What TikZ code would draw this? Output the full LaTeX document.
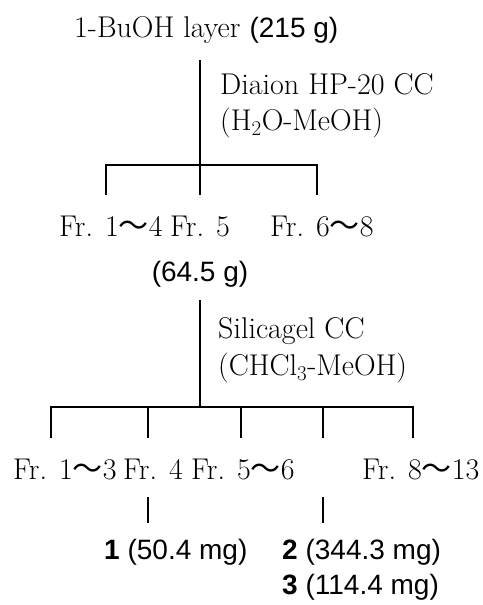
\documentclass[tikz,border=0pt]{standalone}
\usepackage{fontspec}
\newfontfamily\arialfont{Liberation Sans}
\newfontfamily\cjkfont{Noto Sans CJK JP}
\newcommand{\wave}{{\cjkfont ～}}

\begin{document}
\begin{tikzpicture}[x=1pt, y=-1pt,
    txt/.style={inner sep=0pt, anchor=base west, font=\fontsize{30}{36}\selectfont},
    amt/.style={inner sep=0pt, anchor=base west, font=\arialfont\fontsize{28}{34}\selectfont},
    branch/.style={line width=2.8pt}]
    \useasboundingbox (0,0) rectangle (482,605);

    % BuOH layer
    \node[txt] (buoh) at (74,37) {1-BuOH layer {\arialfont\fontsize{28}{34}\selectfont(215 g)}};
    \node[txt] (hp) at (220,94) {Diaion HP-20 CC};
    \node[txt] (hpsol) at (220,130) {(H\textsubscript{2}O-MeOH)};

    % Diaion fractions
    \node[txt] (f14) at (59,236) {Fr. 1\wave4};
    \node[txt] (f5) at (170,236) {Fr. 5};
    \node[txt] (f68) at (270,236) {Fr. 6\wave8};
    \node[amt, anchor=base] (f5w) at (200,281) {(64.5 g)};

    % Silica gel
    \node[txt] (sil) at (218,338) {Silicagel CC};
    \node[txt] (silsol) at (218,375) {(CHCl\textsubscript{3}-MeOH)};

    % Silica gel fractions
    \node[txt] (g13) at (13,479) {Fr. 1\wave3};
    \node[txt] (g4) at (123,479) {Fr. 4};
    \node[txt] (g56) at (191,479) {Fr. 5\wave6};
    \node[txt] (g813) at (362,479) {Fr. 8\wave13};

    % Compounds
    \node[amt] (c1) at (104,559) {\textbf{1} (50.4 mg)};
    \node[amt] (c2) at (282,559) {\textbf{2} (344.3 mg)};
    \node[amt] (c3) at (282,594) {\textbf{3} (114.4 mg)};

    % Tree points
    \coordinate (t1) at (200,60);
    \coordinate (j1) at (200,165);
    \coordinate (t2) at (200,300);
    \coordinate (j2) at (200,407);
    \coordinate (k4) at (148,497);
    \coordinate (k7) at (323,497);

    % Branches
    \draw[branch] (t1) -- (j1) -- (200,195);
    \draw[branch] (106,195) -- (106,165) -- (317,165) -- (317,195);
    \draw[branch] (t2) -- (j2);
    \draw[branch] (51,438) -- (51,407) -- (413,407) -- (413,438);
    \foreach \x in {148,241,323}
        \draw[branch] (\x,407) -- (\x,438);
    \draw[branch] (k4) -- ++(0,26);
    \draw[branch] (k7) -- ++(0,26);
\end{tikzpicture}
\end{document}
